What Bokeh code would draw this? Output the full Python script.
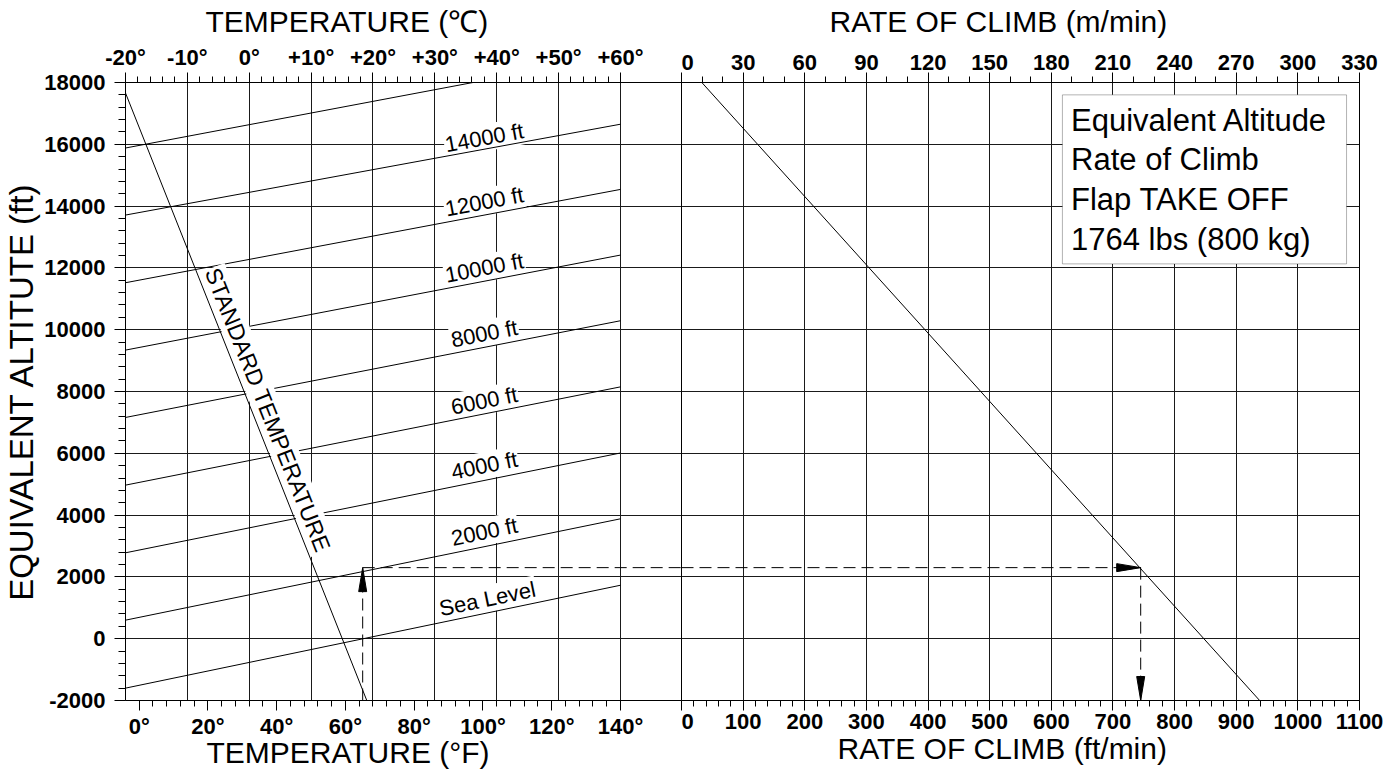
import numpy as np
from bokeh.plotting import figure
from bokeh.models import (Range1d, LinearAxis, FixedTicker, Grid, Label, Title,
                          BoxAnnotation, ColumnDataSource)
from bokeh.layouts import row
from bokeh.embed import file_html
from bokeh.resources import INLINE
from bokeh.core.properties import value

# ---------------- data ----------------
celsius_ticks = [-20, -10, 0, 10, 20, 30, 40, 50, 60]
celsius_tick_labels = ["-20°", "-10°", "0°", "+10°", "+20°", "+30°", "+40°", "+50°", "+60°"]
fahrenheit_ticks = [0, 20, 40, 60, 80, 100, 120, 140]
fahrenheit_tick_labels = ["0°", "20°", "40°", "60°", "80°", "100°", "120°", "140°"]
altitude_ticks = [-2000, 0, 2000, 4000, 6000, 8000, 10000, 12000, 14000, 16000, 18000]
roc_fpm_ticks = [0, 100, 200, 300, 400, 500, 600, 700, 800, 900, 1000, 1100]
roc_mpm_ticks = [0, 30, 60, 90, 120, 150, 180, 210, 240, 270, 300, 330]

# pressure-altitude lines: equivalent altitude at -20 C and +60 C
pressure_alt_names = ["Sea Level", "2000 ft", "4000 ft", "6000 ft", "8000 ft",
                      "10000 ft", "12000 ft", "14000 ft", "16000 ft"]
eq_alt_at_minus20c = [-1600, 600, 2780, 4970, 7160, 9340, 11520, 13710, 15880]
eq_alt_at_plus60c = [1730, 3880, 6010, 8150, 10290, 12415, 14540, 16650, 18900]
line_temp_c = [-20, 60]

# standard temperature line
std_temp_c = [-20.0, 19.0]
std_eq_alt = [17660, -2000]

# rate of climb line
roc_fpm = [33, 938]
roc_eq_alt = [18000, -2000]

# worked example
example_oat_f = 65
example_eq_alt = 2300
example_roc_fpm = 745

legend_lines = ["Equivalent Altitude", "Rate of Climb", "Flap TAKE OFF", "1764 lbs (800 kg)"]

# ---------------- layout / style ----------------
H = 774
TOP, BOTTOM = 82, 74
LEFT_W, LEFT_B = 681, 125
RIGHT_W, RIGHT_B = 708, 30
C_END = 69.86           # left panel range end (includes the gap)
F_START, F_END = -20 * 1.8 + 32, C_END * 1.8 + 32
ALT_MIN, ALT_MAX = -2000, 18000
ROC_MAX = 1100

px_per_c = (LEFT_W - LEFT_B) / (C_END - (-20))
px_per_ft = (H - TOP - BOTTOM) / (ALT_MAX - ALT_MIN)
px_per_fpm = (RIGHT_W - RIGHT_B) / ROC_MAX

SANS = "Liberation Sans"
TICK_SIZE = "22px"
TITLE_SIZE = "30px"
GRID_COLOR = "#1a1a1a"


def style_axis(ax, ticks, minor, labels, standoff=3):
    ax.ticker = FixedTicker(ticks=ticks, minor_ticks=minor)
    ax.major_label_overrides = {t: l for t, l in zip(ticks, labels)}
    ax.axis_line_color = "black"
    ax.major_tick_line_color = "black"
    ax.minor_tick_line_color = "black"
    ax.major_tick_out = 10
    ax.major_tick_in = 0
    ax.minor_tick_out = 6
    ax.minor_tick_in = 0
    ax.major_label_standoff = standoff
    ax.major_label_text_font = SANS
    ax.major_label_text_font_style = "bold"
    ax.major_label_text_font_size = TICK_SIZE
    ax.major_label_text_color = "black"
    return ax


def pad_axis(ax, standoff):
    # blank axis label so both panels reserve the same space for the tick band
    ax.axis_label = " "
    ax.axis_label_text_font_size = "8px"
    ax.axis_label_standoff = standoff
    return ax


def add_grid(fig, dim, ticks):
    g = Grid(dimension=dim, ticker=FixedTicker(ticks=ticks),
             grid_line_color=GRID_COLOR, grid_line_width=1)
    fig.add_layout(g, "center")


def add_title(fig, text, offset, side):
    t = Title(text=text, align="left", offset=offset,
              vertical_align="top", standoff=4 if side == "above" else -12,
              text_font=SANS, text_font_size=TITLE_SIZE,
              text_font_style="normal", text_color="black")
    fig.add_layout(t, side)


def base_fig(width, xr, lb, rb):
    f = figure(width=width, height=H, x_range=xr, y_range=shared_y,
               x_axis_location=None, y_axis_location=None, title=None,
               toolbar_location=None, output_backend="svg",
               min_border_left=lb, min_border_right=rb,
               min_border_top=TOP, min_border_bottom=BOTTOM)
    f.center = []
    f.outline_line_color = "black"
    f.outline_line_width = 1
    f.background_fill_color = "white"
    f.border_fill_color = "white"
    return f


shared_y = Range1d(ALT_MIN, ALT_MAX)

# ================= left panel: temperature =================
left = base_fig(LEFT_W, Range1d(-20, C_END), LEFT_B, 0)
left.outline_line_color = None
left.extra_x_ranges = {"f": Range1d(F_START, F_END)}

ax_c = style_axis(LinearAxis(), celsius_ticks, list(range(-20, 61, 2)), celsius_tick_labels)
left.add_layout(ax_c, "above")
add_title(left, "TEMPERATURE (℃)", 80, "above")

ax_f = style_axis(LinearAxis(x_range_name="f"), fahrenheit_ticks,
                  list(range(0, 141, 4)), fahrenheit_tick_labels)
left.add_layout(ax_f, "below")
add_title(left, "TEMPERATURE (°F)", 81, "below")

ax_y = style_axis(LinearAxis(), altitude_ticks, list(range(-2000, 18001, 400)),
                  [str(t) for t in altitude_ticks], standoff=9)
ax_y.major_tick_out = 11
ax_y.minor_tick_out = 7
ax_y.axis_label = "EQUIVALENT ALTITUTE (ft)"
ax_y.axis_label_text_font = SANS
ax_y.axis_label_text_font_size = "33px"
ax_y.axis_label_text_font_style = "normal"
ax_y.axis_label_text_color = "black"
ax_y.axis_label_standoff = 1
left.add_layout(ax_y, "left")

add_grid(left, 0, celsius_ticks)
add_grid(left, 1, altitude_ticks)

# altitude-line labels (drawn first so their white box breaks the grid)
label_temp_c = [38.5, 38.0, 38.0, 38.0, 38.0, 38.0, 38.0, 38.0]
label_alt = [1290, 3460, 5600, 7700, 9870, 12000, 14140, 16210]
angles = [np.degrees(np.arctan2((e - s) * px_per_ft, (line_temp_c[1] - line_temp_c[0]) * px_per_c))
          for s, e in zip(eq_alt_at_minus20c, eq_alt_at_plus60c)]
lab_src = ColumnDataSource(dict(x=label_temp_c, y=label_alt,
                                text=pressure_alt_names[:8], angle=angles[:8]))
left.text("x", "y", text="text", angle="angle", angle_units="deg", source=lab_src,
          text_align="center", text_baseline="middle", text_font=value(SANS),
          text_font_size="22px", text_color="black",
          background_fill_color="white", padding=1)

left.multi_line(xs=[line_temp_c] * len(eq_alt_at_minus20c),
                ys=[[s, e] for s, e in zip(eq_alt_at_minus20c, eq_alt_at_plus60c)],
                line_color="black", line_width=1)

# standard temperature label + line
std_angle = np.degrees(np.arctan2((std_eq_alt[1] - std_eq_alt[0]) * px_per_ft,
                                  (std_temp_c[1] - std_temp_c[0]) * px_per_c))
left.text(x=[3.0], y=[7400], text=["STANDARD TEMPERATURE"], angle=std_angle,
          angle_units="deg", text_align="center", text_baseline="middle",
          text_font=value(SANS), text_font_size="23px", text_color="black",
          background_fill_color="white", padding=1)
left.line(std_temp_c, std_eq_alt, line_color="black", line_width=1)

# example dashed path (left part)
DASH = "12 6"
left.line([example_oat_f, example_oat_f], [ALT_MIN, example_eq_alt], x_range_name="f",
          line_color="black", line_width=1, line_dash=DASH)
left.line([example_oat_f, F_END], [example_eq_alt, example_eq_alt], x_range_name="f",
          line_color="black", line_width=1, line_dash=DASH)
head_len_ft = 24 / px_per_ft
head_hw_f = 4 / (px_per_c / 1.8)
left.patch([example_oat_f - head_hw_f, example_oat_f, example_oat_f + head_hw_f],
           [example_eq_alt - head_len_ft, example_eq_alt, example_eq_alt - head_len_ft],
           x_range_name="f", fill_color="black", line_color="black")

# ================= right panel: rate of climb =================
right = base_fig(RIGHT_W, Range1d(0, ROC_MAX), 0, RIGHT_B)
right.extra_x_ranges = {"mm": Range1d(0, ROC_MAX * 0.3)}

ax_m = pad_axis(style_axis(LinearAxis(x_range_name="mm"), roc_mpm_ticks,
                           list(range(0, 331, 10)), [str(t) for t in roc_mpm_ticks]), -2)
right.add_layout(ax_m, "above")
add_title(right, "RATE OF CLIMB (m/min)", 148, "above")

ax_r = pad_axis(style_axis(LinearAxis(), roc_fpm_ticks, list(range(0, 1101, 20)),
                           [str(t) for t in roc_fpm_ticks]), -6)
right.add_layout(ax_r, "below")
add_title(right, "RATE OF CLIMB (ft/min)", 156, "below")

add_grid(right, 0, roc_fpm_ticks)
add_grid(right, 1, altitude_ticks)

right.line(roc_fpm, roc_eq_alt, line_color="black", line_width=1)

right.line([0, example_roc_fpm], [example_eq_alt, example_eq_alt],
           line_color="black", line_width=1, line_dash=DASH)
right.line([example_roc_fpm, example_roc_fpm], [example_eq_alt, ALT_MIN],
           line_color="black", line_width=1, line_dash=DASH)
head_len_fpm = 24 / px_per_fpm
head_hw_ft = 4 / px_per_ft
right.patch([example_roc_fpm - head_len_fpm, example_roc_fpm, example_roc_fpm - head_len_fpm],
            [example_eq_alt + head_hw_ft, example_eq_alt, example_eq_alt - head_hw_ft],
            fill_color="black", line_color="black")
head_hw_fpm = 4 / px_per_fpm
right.patch([example_roc_fpm - head_hw_fpm, example_roc_fpm, example_roc_fpm + head_hw_fpm],
            [ALT_MIN + head_len_ft, ALT_MIN, ALT_MIN + head_len_ft],
            fill_color="black", line_color="black")

# legend box
right.add_layout(BoxAnnotation(left=618, right=1079, top=17600, bottom=12130,
                               fill_color="white", fill_alpha=1.0,
                               line_color="black", line_width=1))
right.add_layout(Label(x=632, y=17340, text="\n".join(legend_lines),
                       text_align="left", text_baseline="top",
                       text_font=SANS, text_font_size="31px",
                       text_line_height=1.13, text_color="black"))

layout = row(left, right)
open("out.html", "w").write(file_html(layout, INLINE))
